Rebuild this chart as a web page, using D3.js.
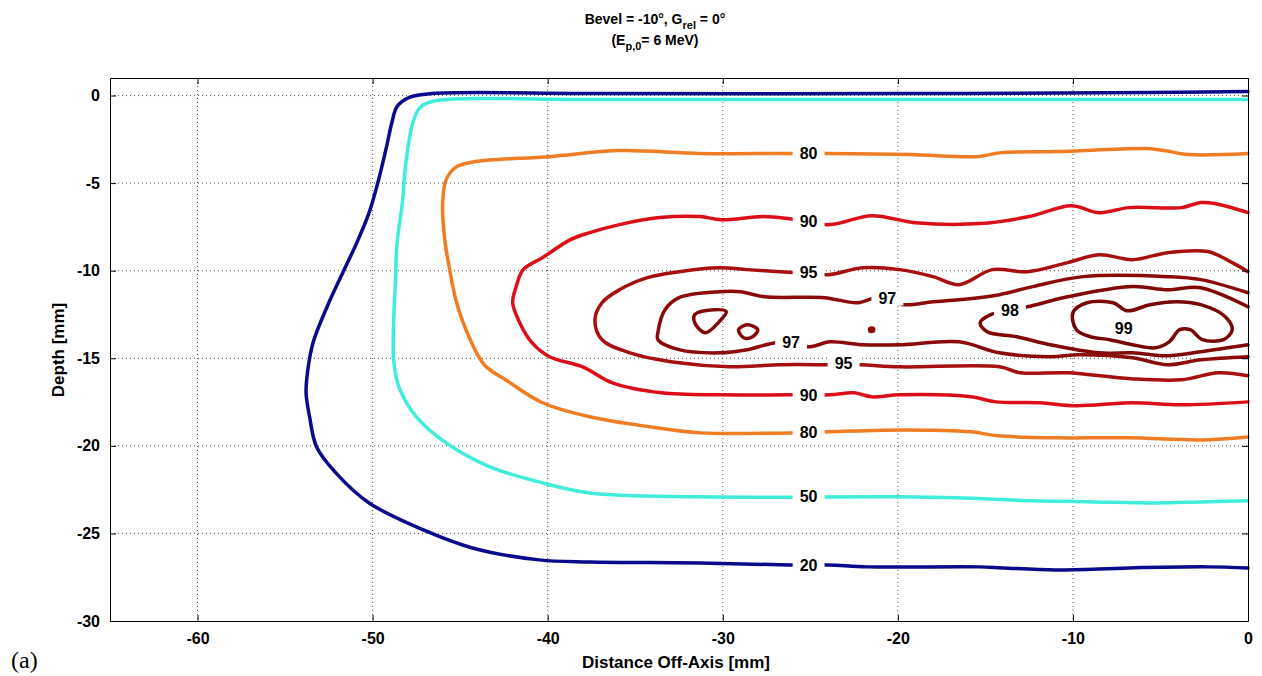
<!DOCTYPE html>
<meta charset="utf-8">
<style>
body { margin: 0; background: #fff; }
svg text { font-family: 'Liberation Sans', Arial, sans-serif; font-weight: bold; fill: #000; }
</style>
<body>
<svg id="chart" width="1262" height="676"></svg>
<script src="https://d3js.org/d3.v7.min.js"></script>
<script>
// contour levels (% dose) and their colours
var levels = [20, 50, 80, 90, 95, 97, 98, 99];
var levelColors = {20: "#0a0a8c", 50: "#40ecdc", 80: "#f07d23", 90: "#dc0f19",
                   95: "#a81010", 97: "#8c0a0a", 98: "#820808", 99: "#780606"};

// isodose lines, [distance off-axis mm, depth mm]
var c20 = [[0,0.23],[-5.6,0.17],[-19.9,0.11],[-37.0,0.11],[-46.6,0.11],[-47.9,-0.11],[-48.6,-0.63],
  [-48.9,-1.54],[-49.2,-2.9],[-49.7,-4.97],[-50.2,-6.69],[-50.9,-8.4],[-51.7,-10.1],[-52.6,-12.06],
  [-53.4,-14.1],[-53.7,-15.66],[-53.8,-16.97],[-53.6,-18.34],[-53.2,-20.06],[-52.1,-21.54],
  [-50.2,-23.26],[-47.1,-24.8],[-44.3,-25.83],[-40.5,-26.51],[-37.6,-26.63],[-31.3,-26.69],
  [-26.2,-26.8],[-24.0,-26.8],[-21.7,-26.91],[-15.4,-26.91],[-14.0,-26.97],[-11.0,-27.09],
  [-6.8,-26.97],[-2.3,-26.91],[0,-26.97]];

var c50 = [[0,-0.23],[-19.9,-0.23],[-37.0,-0.23],[-46.6,-0.34],[-47.3,-0.69],[-47.7,-1.54],
  [-48.1,-3.83],[-48.3,-6.11],[-48.6,-8.4],[-48.7,-10.69],[-48.8,-12.97],[-48.8,-15.09],
  [-48.5,-16.63],[-47.5,-18.34],[-45.8,-19.83],[-43.3,-21.2],[-40.5,-22.06],[-37.6,-22.69],
  [-31.3,-22.91],[-19.9,-22.91],[-16.6,-22.97],[-12.3,-23.14],[-8.8,-23.2],[-5.3,-23.26],
  [-2.7,-23.2],[0,-23.14]];

var c80 = [[0,-3.31],[-3.4,-3.37],[-4.8,-3.14],[-5.8,-3.03],[-10.9,-3.2],[-14.1,-3.26],[-15.5,-3.49],
  [-19.3,-3.37],[-24.1,-3.31],[-26.4,-3.31],[-31.3,-3.31],[-35.9,-3.14],[-39.9,-3.49],[-44.1,-3.77],
  [-45.2,-4.06],[-45.8,-4.8],[-46.0,-6.11],[-45.9,-8.06],[-45.6,-9.94],[-45.2,-11.83],[-44.5,-13.77],
  [-43.6,-15.4],[-42.4,-16.23],[-40.3,-17.54],[-37.6,-18.34],[-34.2,-18.91],[-31.3,-19.26],
  [-26.2,-19.26],[-23.9,-19.2],[-19.9,-19.09],[-15.8,-19.2],[-14.3,-19.43],[-10.9,-19.54],
  [-6.8,-19.54],[-2.7,-19.66],[0,-19.49]];

var c90 = [[0,-6.69],[-1.9,-6.17],[-2.7,-6.11],[-3.8,-6.4],[-6.8,-6.4],[-8.5,-6.69],[-10.1,-6.29],
  [-12.5,-6.91],[-15.3,-7.31],[-19.0,-7.26],[-21.5,-6.86],[-23.9,-7.37],[-26.2,-7.03],[-27.7,-6.91],
  [-30.1,-7.09],[-31.3,-6.91],[-33.6,-6.97],[-35.9,-7.37],[-37.6,-7.83],[-38.7,-8.23],[-40.3,-9.26],
  [-41.4,-9.94],[-41.8,-10.91],[-42.0,-11.83],[-41.6,-12.97],[-40.9,-14.11],[-39.9,-14.91],
  [-38.0,-15.49],[-36.3,-16.4],[-33.5,-16.97],[-30.1,-17.09],[-26.2,-17.09],[-23.9,-17.09],
  [-22.5,-16.97],[-21.5,-17.2],[-19.9,-17.09],[-15.8,-17.2],[-14.4,-17.49],[-11.9,-17.54],
  [-9.8,-17.71],[-6.7,-17.54],[-3.8,-17.66],[0,-17.49]];

var c95 = [[0,-10.06],[-0.9,-9.54],[-2.3,-8.91],[-4.6,-8.97],[-6.6,-9.37],[-8.5,-9.09],[-10.3,-9.54],
  [-12.6,-10.06],[-14.6,-9.94],[-16.5,-10.8],[-18.0,-10.34],[-19.9,-9.94],[-22.0,-9.83],[-24.0,-10.23],
  [-26.0,-10.11],[-28.6,-9.94],[-30.2,-9.83],[-32.5,-10.06],[-34.3,-10.4],[-35.9,-11.09],[-36.9,-11.83],
  [-37.3,-12.8],[-36.9,-13.94],[-35.3,-14.69],[-32.5,-15.26],[-29.6,-15.49],[-26.7,-15.37],
  [-23.9,-15.37],[-22.2,-15.37],[-19.9,-15.49],[-14.2,-15.49],[-13.0,-15.83],[-10.3,-15.83],
  [-6.7,-16.17],[-3.8,-16.23],[-1.7,-15.83],[0,-16.0]];

var c97 = [[0,-11.26],[-2.7,-10.51],[-4.6,-10.34],[-9.4,-10.34],[-12.3,-10.91],[-14.2,-11.37],
  [-16.5,-11.66],[-18.0,-11.77],[-19.7,-11.94],[-21.0,-11.49],[-22.3,-11.83],[-24.2,-11.54],
  [-27.6,-11.49],[-29.0,-11.2],[-30.2,-11.2],[-32.5,-11.54],[-33.3,-12.23],[-33.7,-13.49],
  [-33.7,-13.94],[-32.5,-14.51],[-30.2,-14.69],[-28.6,-14.51],[-26.9,-14.11],[-25.0,-14.34],
  [-23.9,-14.06],[-22.0,-14.23],[-19.9,-14.23],[-16.5,-14.06],[-14.2,-14.69],[-11.3,-14.91],
  [-9.7,-14.8],[-6.6,-14.97],[-4.6,-15.37],[-2.7,-15.09],[0,-14.91]];
var c97dot = [[-21.6,-13.3],[-21.4,-13.3],[-21.4,-13.45],[-21.6,-13.45]];

var c98 = [[0,-12.06],[-2.7,-10.97],[-4.6,-11.09],[-6.6,-10.91],[-10.3,-11.49],[-12.6,-12.06],
  [-13.6,-12.23],[-14.7,-12.51],[-15.3,-12.97],[-14.9,-13.49],[-13.2,-13.77],[-11.3,-14.23],
  [-8.5,-14.69],[-6.6,-14.69],[-4.6,-14.86],[-2.7,-14.63],[0,-14.23]];
var c98a = [[-31.6,-12.51],[-30.5,-12.23],[-29.8,-12.34],[-30.2,-12.91],[-31.0,-13.54],[-31.6,-12.97]];
var c98b = [[-29.1,-13.37],[-28.6,-13.09],[-28.0,-13.37],[-28.3,-13.77],[-28.8,-13.83]];

var c99 = [[-10.0,-12.4],[-9.2,-11.83],[-7.7,-11.83],[-6.9,-12.29],[-5.6,-11.94],[-4.1,-11.77],
  [-2.7,-11.94],[-1.3,-12.63],[-0.9,-13.37],[-1.4,-13.94],[-2.6,-13.94],[-3.3,-13.37],[-3.9,-13.37],
  [-4.5,-14.06],[-5.3,-14.4],[-6.6,-14.23],[-7.9,-13.94],[-9.0,-13.77],[-9.8,-13.37]];

var contours = [
  {level: 20, closed: false, pts: c20},
  {level: 50, closed: false, pts: c50},
  {level: 80, closed: false, pts: c80},
  {level: 90, closed: false, pts: c90},
  {level: 95, closed: false, pts: c95},
  {level: 97, closed: false, pts: c97},
  {level: 97, closed: true, pts: c97dot},
  {level: 98, closed: false, pts: c98},
  {level: 98, closed: true, pts: c98a},
  {level: 98, closed: true, pts: c98b},
  {level: 99, closed: true, pts: c99}
];

// inline contour labels [level, x, y]
var labelPos = [[80,-25.1,-3.3],[90,-25.1,-7.2],[95,-25.1,-10.1],[97,-20.6,-11.55],[98,-13.6,-12.25],
  [99,-7.1,-13.3],[97,-26.1,-14.1],[95,-23.1,-15.27],[90,-25.1,-17.1],[80,-25.1,-19.25],
  [50,-25.1,-22.9],[20,-25.1,-26.8]];

var xTicks = [-60, -50, -40, -30, -20, -10, 0];
var yTicks = [0, -5, -10, -15, -20, -25, -30];

var margin = {top: 78, right: 14, bottom: 55, left: 110},
    W = 1262, H = 676,
    width = W - margin.left - margin.right,
    height = H - margin.top - margin.bottom;

var x = d3.scaleLinear().domain([-65, 0]).range([0, width]);
var y = d3.scaleLinear().domain([-30, 1]).range([height, 0]);

var svg = d3.select("#chart");
var g = svg.append("g").attr("transform", "translate(" + margin.left + "," + margin.top + ")");

// dotted grid
g.append("g").attr("class", "grid")
  .selectAll("line.gx").data(xTicks.filter(function(d) { return d > -65 && d < 0; }))
  .enter().append("line")
    .attr("x1", function(d) { return x(d); }).attr("x2", function(d) { return x(d); })
    .attr("y1", 0).attr("y2", height);
g.select(".grid")
  .selectAll("line.gy").data(yTicks.filter(function(d) { return d > -30; }))
  .enter().append("line")
    .attr("x1", 0).attr("x2", width)
    .attr("y1", function(d) { return y(d); }).attr("y2", function(d) { return y(d); });
g.selectAll(".grid line")
  .attr("stroke", "#555").attr("stroke-width", 1).attr("stroke-dasharray", "1,3");

var lineOpen = d3.line().x(function(d) { return x(d[0]); }).y(function(d) { return y(d[1]); })
  .curve(d3.curveCatmullRom.alpha(0.5));
var lineClosed = d3.line().x(function(d) { return x(d[0]); }).y(function(d) { return y(d[1]); })
  .curve(d3.curveCatmullRomClosed.alpha(0.5));

g.append("g").selectAll("path")
  .data(contours)
  .enter().append("path")
    .attr("d", function(d) { return d.closed ? lineClosed(d.pts) : lineOpen(d.pts); })
    .attr("fill", "none")
    .attr("stroke", function(d) { return levelColors[d.level]; })
    .attr("stroke-width", 3.5)
    .attr("stroke-linejoin", "round")
    .attr("stroke-linecap", "round");

// labels with white gap behind them
var lab = g.append("g").selectAll("g")
  .data(labelPos)
  .enter().append("g")
    .attr("transform", function(d) { return "translate(" + x(d[1]) + "," + y(d[2]) + ")"; });
lab.append("text")
  .attr("text-anchor", "middle")
  .attr("dy", "0.36em")
  .style("font-size", "16px")
  .text(function(d) { return d[0]; });
lab.each(function() {
  var t = d3.select(this).select("text");
  var b = t.node().getBBox();
  d3.select(this).insert("rect", "text")
    .attr("x", b.x - 7).attr("y", b.y + 1)
    .attr("width", b.width + 14).attr("height", b.height - 2)
    .attr("fill", "#fff");
});

// axes box with inward ticks
var fmt = function(d) { return String(d); };
var xAxis = d3.axisBottom(x).tickValues(xTicks).tickFormat(fmt)
  .tickSizeInner(-6).tickSizeOuter(0).tickPadding(12);
var yAxis = d3.axisLeft(y).tickValues(yTicks).tickFormat(fmt)
  .tickSizeInner(-6).tickSizeOuter(0).tickPadding(10);

g.append("g").attr("class", "axis")
  .attr("transform", "translate(0," + height + ")")
  .call(xAxis);
g.append("g").attr("class", "axis")
  .call(yAxis);
g.append("g").attr("class", "axis")
  .call(d3.axisTop(x).tickValues(xTicks).tickSizeInner(-6).tickSizeOuter(0).tickFormat(""));
g.append("g").attr("class", "axis")
  .attr("transform", "translate(" + width + ",0)")
  .call(d3.axisRight(y).tickValues(yTicks).tickSizeInner(-6).tickSizeOuter(0).tickFormat(""));

g.selectAll(".axis path, .axis line").attr("stroke", "#000").attr("stroke-width", 1);
g.selectAll(".axis text")
  .style("font-family", "'Liberation Sans', Arial, sans-serif")
  .style("font-weight", "bold")
  .style("font-size", "16px")
  .attr("fill", "#000");

// axis titles
g.append("text")
  .attr("x", width / 2 - 3).attr("y", height + 47)
  .attr("text-anchor", "middle")
  .style("font-size", "17px")
  .text("Distance Off-Axis [mm]");

g.append("text")
  .attr("transform", "translate(-46," + (350 - margin.top) + ") rotate(-90)")
  .attr("text-anchor", "middle")
  .style("font-size", "17px")
  .text("Depth [mm]");

// title with subscripts
var t1 = svg.append("text").attr("x", 655).attr("y", 24).attr("text-anchor", "middle")
  .style("font-size", "14px");
t1.append("tspan").text("Bevel = -10°, G");
t1.append("tspan").attr("dy", 5).style("font-size", "11px").text("rel");
t1.append("tspan").attr("dy", -5).text(" = 0°");

var t2 = svg.append("text").attr("x", 655).attr("y", 45).attr("text-anchor", "middle")
  .style("font-size", "14px");
t2.append("tspan").text("(E");
t2.append("tspan").attr("dy", 5).style("font-size", "11px").text("p,0");
t2.append("tspan").attr("dy", -5).text("= 6 MeV)");

svg.append("text")
  .attr("x", 11).attr("y", 668)
  .style("font-family", "'Liberation Serif', 'Times New Roman', serif")
  .style("font-weight", "normal")
  .style("font-size", "24px")
  .text("(a)");
</script>
</body>
